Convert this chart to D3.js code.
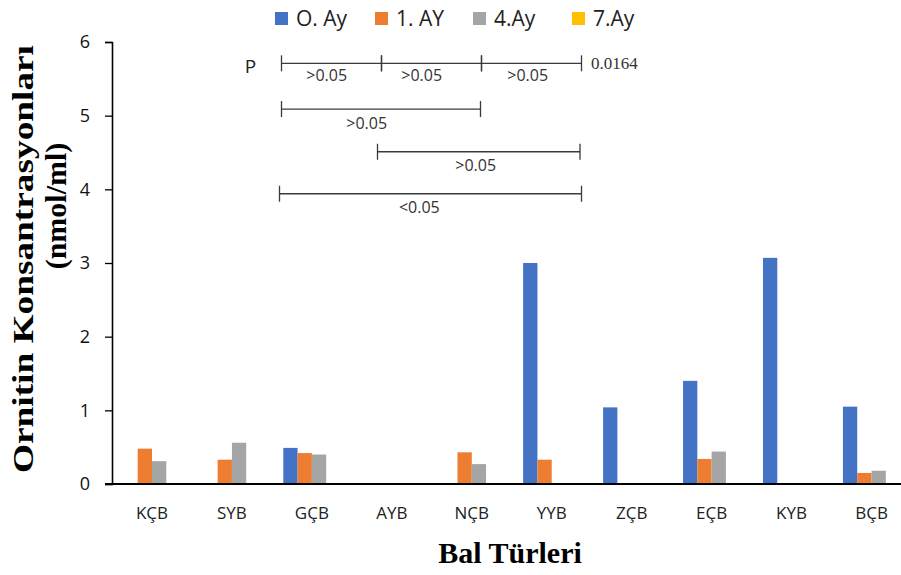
<!DOCTYPE html>
<html>
<head>
<meta charset="utf-8">
<script src="https://cdn.jsdelivr.net/npm/d3@7"></script>
<style>
  html, body { margin: 0; padding: 0; background: #fff; }
  svg { display: block; }
</style>
</head>
<body>
<svg id="chart" width="901" height="575"></svg>
<script>
// Honey types (x axis) and the four sampling months
const categories = ["KÇB", "SYB", "GÇB", "AYB", "NÇB", "YYB", "ZÇB", "EÇB", "KYB", "BÇB"];
const seriesNames = ["O. Ay", "1. AY", "4.Ay", "7.Ay"];
const seriesColors = ["#4472C4", "#ED7D31", "#A5A5A5", "#FFC000"];

// Ornithine concentration (nmol/ml) per month; null = not detected
const month0 = [null, null, 0.49, null, null, 3.00, 1.04, 1.40, 3.07, 1.05];
const month1 = [0.48, 0.33, 0.42, null, 0.43, 0.33, null, 0.34, null, 0.15];
const month4 = [0.31, 0.56, 0.40, null, 0.27, null, null, 0.44, null, 0.18];
const month7 = [null, null, null, null, null, null, null, null, null, null];
const seriesValues = [month0, month1, month4, month7];

const yTicks = [0, 1, 2, 3, 4, 5, 6];

// Pairwise comparison brackets between months (index into seriesNames)
const comparisons = [
  { from: 0, to: 1, label: ">0.05" },
  { from: 1, to: 2, label: ">0.05" },
  { from: 2, to: 3, label: ">0.05" },
  { from: 0, to: 2, label: ">0.05" },
  { from: 1, to: 3, label: ">0.05" },
  { from: 0, to: 3, label: "<0.05" }
];
const overallP = "0.0164";

const svg = d3.select("#chart");

const x0 = d3.scaleBand()
  .domain(categories)
  .range([112, 911.5])
  .paddingInner(0.285)
  .paddingOuter(0.1425);

const x1 = d3.scaleBand()
  .domain(d3.range(seriesNames.length))
  .range([0, x0.bandwidth()])
  .padding(0);

const y = d3.scaleLinear().domain([0, 6]).range([484, 42]);

// Bars
const groups = svg.append("g")
  .selectAll("g")
  .data(categories)
  .join("g")
  .attr("transform", d => `translate(${x0(d)},0)`);

groups.selectAll("rect")
  .data((c, i) => seriesValues.map((vals, s) => ({ s, v: vals[i] })).filter(d => d.v != null))
  .join("rect")
  .attr("x", d => x1(d.s))
  .attr("width", x1.bandwidth())
  .attr("y", d => y(d.v))
  .attr("height", d => y(0) - y(d.v))
  .attr("fill", d => seriesColors[d.s]);

// Y axis
const yAxis = svg.append("g")
  .attr("transform", "translate(112,0)")
  .call(d3.axisLeft(y).tickValues(yTicks).tickSize(7).tickPadding(15).tickFormat(d3.format("d")));
yAxis.select(".domain").attr("stroke", "#000").attr("stroke-width", 1.6);
yAxis.selectAll(".tick line").attr("stroke", "#000").attr("stroke-width", 1.3);
yAxis.selectAll(".tick text")
  .attr("font-family", "'Open Sans', sans-serif")
  .attr("font-size", 18)
  .attr("fill", "#111");

// X axis line and category labels
svg.append("line")
  .attr("x1", 105).attr("x2", 901)
  .attr("y1", y(0)).attr("y2", y(0))
  .attr("stroke", "#000").attr("stroke-width", 1.8);

svg.append("g")
  .selectAll("text")
  .data(categories)
  .join("text")
  .attr("x", d => x0(d) + x0.bandwidth() / 2)
  .attr("y", 518.5)
  .attr("text-anchor", "middle")
  .attr("font-family", "'Open Sans', sans-serif")
  .attr("font-size", 17)
  .attr("fill", "#222")
  .text(d => d);

// Axis titles
svg.append("text")
  .attr("x", 510).attr("y", 563)
  .attr("text-anchor", "middle")
  .attr("font-family", "'Liberation Serif', 'Times New Roman', serif")
  .attr("font-weight", "bold")
  .attr("font-size", 30)
  .text("Bal Türleri");

svg.append("text")
  .attr("transform", "translate(33,259) rotate(-90)")
  .attr("text-anchor", "middle")
  .attr("font-family", "'Liberation Serif', 'Times New Roman', serif")
  .attr("font-weight", "bold")
  .attr("font-size", 30)
  .attr("textLength", 428)
  .attr("lengthAdjust", "spacingAndGlyphs")
  .text("Ornitin Konsantrasyonları");

svg.append("text")
  .attr("transform", "translate(66,206) rotate(-90)")
  .attr("text-anchor", "middle")
  .attr("font-family", "'Liberation Serif', 'Times New Roman', serif")
  .attr("font-weight", "bold")
  .attr("font-size", 30)
  .text("(nmol/ml)");

// Legend
const legendX = [275, 375, 473, 572];
const legend = svg.append("g")
  .selectAll("g")
  .data(seriesNames)
  .join("g")
  .attr("transform", (d, i) => `translate(${legendX[i]},12)`);
legend.append("rect")
  .attr("width", 13).attr("height", 13)
  .attr("fill", (d, i) => seriesColors[i]);
legend.append("text")
  .attr("x", 21).attr("y", 14)
  .attr("font-family", "'Open Sans', sans-serif")
  .attr("font-size", 21)
  .attr("fill", "#222")
  .text(d => d);

// Comparison brackets
const monthX = d3.scalePoint().domain(d3.range(seriesNames.length)).range([281.5, 581.5]);
const rowValue = [5.71, 5.71, 5.71, 5.09, 4.51, 3.94];
const labelX = [326.7, 421.7, 527.7, 366.7, 475.7, 419.3];
const ann = svg.append("g")
  .attr("stroke", "#3a3a3a")
  .attr("stroke-width", 1.3);

comparisons.forEach((c, i) => {
  const yy = y(rowValue[i]);
  let xa = monthX(c.from);
  let xb = monthX(c.to);
  if (i === 3) xb -= 1;
  if (i === 4) { xa -= 4; xb -= 1.5; }
  if (i === 5) xa -= 2;
  ann.append("line").attr("x1", xa).attr("x2", xb).attr("y1", yy).attr("y2", yy);
  ann.append("line").attr("x1", xa).attr("x2", xa).attr("y1", yy - 8).attr("y2", yy + 8);
  ann.append("line").attr("x1", xb).attr("x2", xb).attr("y1", yy - 8).attr("y2", yy + 8);
  svg.append("text")
    .attr("x", labelX[i])
    .attr("y", yy + (i < 3 ? 17.5 : 19.5))
    .attr("text-anchor", "middle")
    .attr("font-family", "'Open Sans', sans-serif")
    .attr("font-size", 16)
    .attr("fill", "#333")
    .text(c.label);
});

svg.append("text")
  .attr("x", 250.5).attr("y", y(5.71) + 9.5)
  .attr("text-anchor", "middle")
  .attr("font-family", "'Open Sans', sans-serif")
  .attr("font-size", 19)
  .attr("fill", "#222")
  .text("P");

svg.append("text")
  .attr("x", 591).attr("y", y(5.71) + 5.5)
  .attr("font-family", "'Liberation Serif', 'Times New Roman', serif")
  .attr("font-size", 17)
  .attr("fill", "#333")
  .text(overallP);
</script>
</body>
</html>
